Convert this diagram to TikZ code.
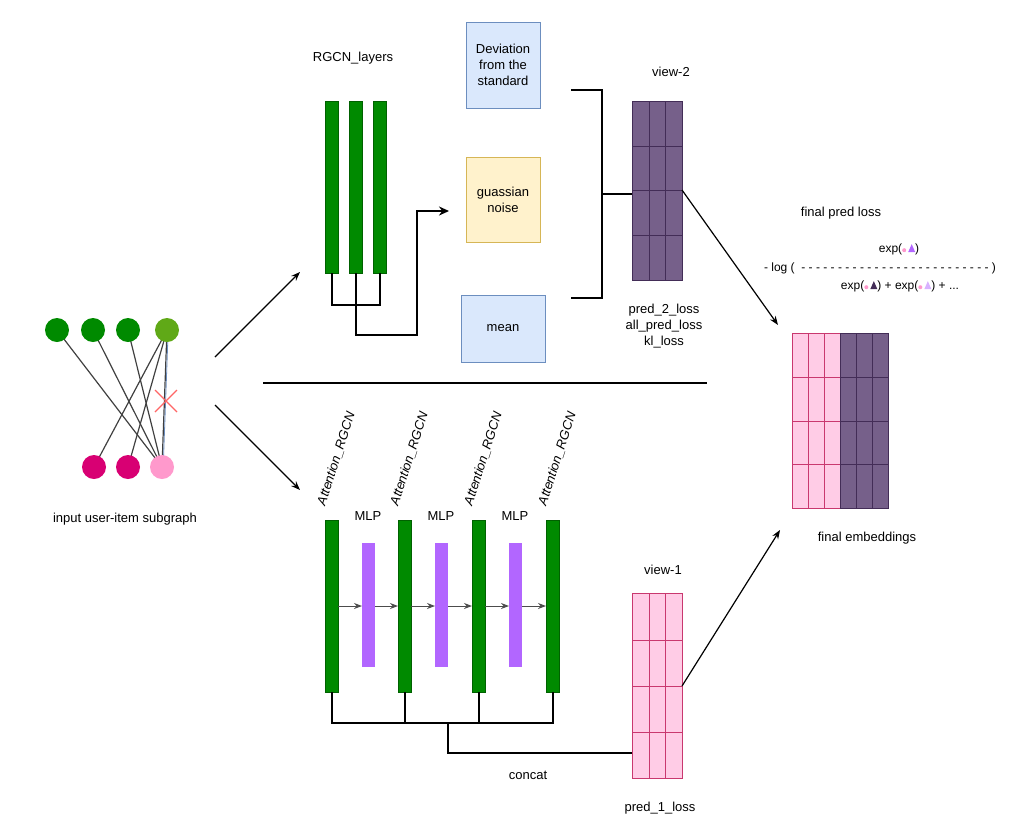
\documentclass[tikz,border=0pt]{standalone}
\usepackage{fontspec}
\setmainfont{Liberation Sans}
\usetikzlibrary{arrows.meta}
\definecolor{gr}{HTML}{008A00}
\definecolor{lgr}{HTML}{60A917}
\definecolor{mag}{HTML}{D80073}
\definecolor{pk}{HTML}{FF99CC}
\definecolor{pkf}{HTML}{FFCCE6}
\definecolor{pkb}{HTML}{C9386F}
\definecolor{pu}{HTML}{76608A}
\definecolor{pub}{HTML}{432D57}
\definecolor{mlp}{HTML}{B266FF}
\definecolor{bl}{HTML}{DAE8FC}
\definecolor{blb}{HTML}{6C8EBF}
\definecolor{ye}{HTML}{FFF2CC}
\definecolor{yeb}{HTML}{D6B656}
\newcommand{\pdot}{\tikz[baseline=-0.3ex]\fill[pk](0,0)circle(2pt);}
\newcommand{\ptri}[1]{\tikz[baseline=0ex]\fill[#1](0,0)--(7pt,0)--(3.5pt,8pt)--cycle;}
\tikzset{
 txt/.style={font=\fontsize{13}{16}\selectfont, align=center},
 gbar/.style={draw=gr!70!black,fill=gr},
 mbar/.style={fill=mlp},
 ln/.style={line width=2pt},
 arr/.style={-{Stealth[length=9pt]},line width=1.2pt},
 gn/.style={circle,minimum size=24pt,inner sep=0pt},
 box/.style={draw,line width=1pt,txt}
}
\begin{document}
\begin{tikzpicture}[x=1pt,y=-1pt]
\useasboundingbox (0,0) rectangle (1024,822);
% graph
\node[gn] (t1) at (57,330) {};
\node[gn] (t2) at (93,330) {};
\node[gn] (t3) at (128,330) {};
\node[gn] (t4) at (167,330) {};
\node[gn] (b1) at (94,467) {};
\node[gn] (b2) at (128,467) {};
\node[gn] (b3) at (162,467) {};
\foreach \a in {t1,t2,t3} \draw[line width=1.2pt,black!75] (\a.center) -- (b3.center);
\foreach \b in {b1,b2} \draw[line width=1.2pt,black!75] (t4.center) -- (\b.center);
\draw[line width=1.2pt,black!75] (t4.center) -- (b3.center);
\draw[blb,line width=0.8pt] ([xshift=1.2pt]t4.center) -- ([xshift=1.2pt]b3.center);
\foreach \n/\c in {t1/gr,t2/gr,t3/gr,t4/lgr,b1/mag,b2/mag,b3/pk} \fill[\c] (\n) circle(12);
\draw[red!60,line width=1.2pt] (155,390)--(177,412) (155,412)--(177,390);
\node[txt] (inlbl) at (125,519) {input user-item subgraph};
\coordinate (ga) at (215,357); \coordinate (gb) at (215,405);
\coordinate (ta) at (300,272); \coordinate (tb) at (300,490);
\draw[arr] (ga) -- (ta);
\draw[arr] (gb) -- (tb);
% top
\node[txt] (rgcnl) at (353,58) {RGCN\_layers};
\foreach \x/\n in {325/r1,349/r2,373/r3} {\draw[gbar] (\x,101) rectangle (\x+13,273); \coordinate (\n) at (\x+6.5,273);}
\draw[ln] (r1) -- ++(0,32) -| (r3);
\node[box,draw=blb,fill=bl,minimum width=74pt,minimum height=86pt] (dev) at (503,65) {Deviation\\from the\\standard};
\node[box,draw=yeb,fill=ye,minimum width=74pt,minimum height=85pt] (noise) at (503,199.5) {guassian\\noise};
\node[box,draw=blb,fill=bl,minimum width=84pt,minimum height=67pt] (mean) at (503,328.5) {mean};
\draw[ln,-{Stealth[length=10pt,width=9pt]}] (r2) |- (417,335) |- (449,211);
\draw[ln] (571,90) -| (602,298) -- (571,298);
% view-2
\fill[pu] (632,101) rectangle (682,280);
\draw[pub,line width=0.8pt] (632,101) rectangle (682,280);
\foreach \x in {649,665} \draw[pub,line width=0.8pt] (\x,101)--(\x,280);
\foreach \y in {146,190,235} \draw[pub,line width=0.8pt] (632,\y)--(682,\y);
\coordinate (v2l) at (632,194); \coordinate (v2r) at (682,190);
\draw[ln] (602,194) -- (v2l);
\node[txt] (v2lbl) at (671,72) {view-2};
\node[txt] (l2) at (664,326) {pred\_2\_loss\\all\_pred\_loss\\kl\_loss};
% separator
\draw[line width=1.2pt] (263,383) -- (707,383);
% final
\fill[pkf] (792,333) rectangle (840,508);
\fill[pu] (840,333) rectangle (888,508);
\foreach \x in {808,824} \draw[pkb,line width=0.8pt] (\x,333)--(\x,508);
\foreach \x in {856,872} \draw[pub,line width=0.8pt] (\x,333)--(\x,508);
\foreach \y in {377,421,464} {\draw[pkb,line width=0.8pt] (792,\y)--(840,\y); \draw[pub,line width=0.8pt] (840,\y)--(888,\y);}
\draw[pkb,line width=0.8pt] (792,333) rectangle (840,508);
\draw[pub,line width=0.8pt] (840,333) rectangle (888,508);
\coordinate (fe1) at (778,325); \coordinate (fe2) at (780,530);
\node[txt] (felbl) at (867,538) {final embeddings};
\draw[arr] (v2r) -- (fe1);
\node[txt] (fpl) at (841,213) {final pred loss};
\node[txt,font=\fontsize{12}{14}\selectfont] (f1) at (899,249) {exp(\pdot\,\ptri{mlp})};
\node[txt,font=\fontsize{12}{14}\selectfont] (f2) at (880,268) {- log (\ \ - - - - - - - - - - - - - - - - - - - - - - - - - - )};
\node[txt,font=\fontsize{12}{14}\selectfont] (f3) at (900,286) {exp(\pdot\,\ptri{pub}) + exp(\pdot\,\ptri{mlp!50}) + ...};
% bottom
\foreach \x/\n in {325/a1,398/a2,472/a3,546/a4} {
  \draw[gbar] (\x,520) rectangle (\x+13,692);
  \coordinate (\n) at (\x+6.5,692);
  \node[txt,rotate=72,anchor=west,inner sep=1pt] at (\x-4,506) {\textit{Attention\_RGCN}};
}
\foreach \x/\n in {362/m1,435/m2,509/m3} {
  \fill[mbar] (\x,543) rectangle (\x+13,667);
  \node[txt] at (\x+6,516) {MLP};
}
\foreach \xa/\xb in {338/362,375/398,411/435,448/472,485/509,522/546}
  \draw[line width=1pt,black!70,-{Stealth[length=8pt]}] (\xa,606) -- (\xb,606);
\draw[ln] (a1) -- (331.5,723) -| (a4);
\draw[ln] (a2) -- (404.5,723);
\draw[ln] (a3) -- (478.5,723);
% view-1
\fill[pkf] (632,593) rectangle (682,778);
\draw[pkb,line width=0.8pt] (632,593) rectangle (682,778);
\foreach \x in {649,665} \draw[pkb,line width=0.8pt] (\x,593)--(\x,778);
\foreach \y in {640,686,732} \draw[pkb,line width=0.8pt] (632,\y)--(682,\y);
\coordinate (v1l) at (632,753); \coordinate (v1r) at (682,686);
\draw[ln] (448,723) |- (v1l);
\node[txt] (v1lbl) at (663,570) {view-1};
\node[txt] (concat) at (528,775) {concat};
\node[txt] (l1) at (660,808) {pred\_1\_loss};
\draw[arr] (v1r) -- (fe2);
\end{tikzpicture}
\end{document}
